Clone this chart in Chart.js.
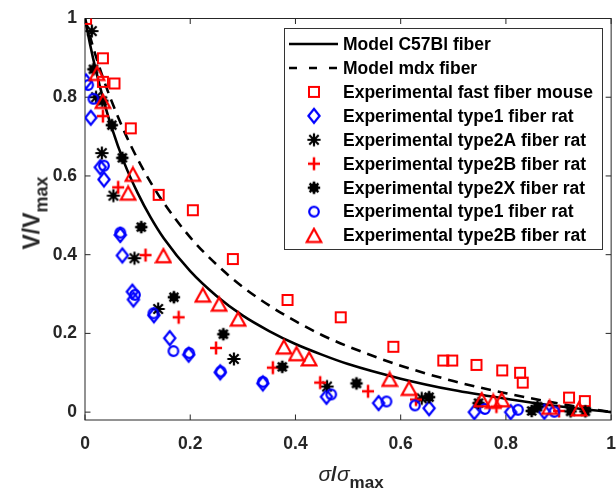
<!DOCTYPE html>
<html>
<head>
<meta charset="utf-8">
<script src="https://cdn.jsdelivr.net/npm/chart.js@4.4.0/dist/chart.umd.min.js"></script>
<style>
  html, body { margin: 0; padding: 0; background: #fff; overflow: hidden; }
  #wrap { position: relative; width: 616px; height: 492px; overflow: hidden; }
  #chart { position: absolute; left: 0; top: 0; }
  .title { position: absolute; font-family: "Liberation Sans", Arial, sans-serif; font-weight: bold;
           color: #262626; white-space: nowrap; line-height: 1; }
  .title sub { font-size: 17px; vertical-align: -7px; line-height: 0; }
  .title i { font-weight: normal; }
  #xtitle { left: 351px; top: 463px; font-size: 21px; transform: translateX(-50%); }
  #ytitle { left: 32px; top: 213px; font-size: 23px; transform: translate(-50%, -50%) rotate(-90deg); }
  #ytitle sub { font-size: 18px; vertical-align: -8px; }
</style>
</head>
<body>
<div id="wrap">
  <canvas id="chart" width="630" height="492"></canvas>
  <div class="title" id="xtitle"><i>σ</i>/<i>σ</i><sub>max</sub></div>
  <div class="title" id="ytitle">V/V<sub>max</sub></div>
</div>
<script>
// axis ticks
var xTicks = [0, 0.2, 0.4, 0.6, 0.8, 1];
var yTicks = [0, 0.2, 0.4, 0.6, 0.8, 1];

// model curves
var modelX = [0, 0.01, 0.02, 0.035, 0.05, 0.075, 0.1, 0.125, 0.15, 0.2, 0.25, 0.3, 0.35, 0.4, 0.45, 0.5, 0.6, 0.7, 0.8, 0.9, 1];
var c57Y   = [1, 0.932, 0.872, 0.794, 0.726, 0.632, 0.557, 0.494, 0.441, 0.358, 0.295, 0.245, 0.206, 0.173, 0.146, 0.122, 0.085, 0.056, 0.034, 0.015, 0];
var mdxY   = [1, 0.952, 0.907, 0.846, 0.792, 0.712, 0.643, 0.583, 0.531, 0.444, 0.375, 0.318, 0.271, 0.231, 0.196, 0.167, 0.118, 0.079, 0.048, 0.022, 0];

// experimental points [sigma/sigma_max, V/V_max]
var fastMouse = [[0.002,0.999],[0.034,0.899],[0.034,0.839],[0.056,0.835],[0.087,0.721],[0.140,0.552],[0.205,0.513],
  [0.281,0.389],[0.385,0.285],[0.486,0.241],[0.586,0.166],[0.681,0.131],[0.698,0.131],[0.744,0.120],[0.793,0.106],
  [0.827,0.100],[0.832,0.075],[0.920,0.037],[0.950,0.028]];
var type1Dia = [[0.002,0.840],[0.011,0.748],[0.029,0.622],[0.036,0.591],[0.067,0.450],[0.071,0.398],[0.090,0.306],
  [0.092,0.286],[0.131,0.246],[0.161,0.188],[0.197,0.146],[0.257,0.101],[0.338,0.073],[0.459,0.039],[0.558,0.023],
  [0.654,0.010],[0.740,0.000],[0.809,0.000],[0.873,0.001]];
var type2A = [[0.013,0.968],[0.021,0.800],[0.032,0.658],[0.054,0.550],[0.094,0.391],[0.139,0.262],[0.283,0.135],
  [0.460,0.065],[0.640,0.035]];
var type2BPlus = [[0.034,0.752],[0.063,0.571],[0.115,0.399],[0.178,0.241],[0.249,0.163],[0.357,0.113],[0.447,0.075],
  [0.538,0.053],[0.629,0.032],[0.782,0.014],[0.901,0.003]];
var type2X = [[0.016,0.871],[0.033,0.791],[0.051,0.729],[0.071,0.646],[0.107,0.470],[0.169,0.292],[0.263,0.198],
  [0.375,0.115],[0.516,0.073],[0.654,0.038],[0.748,0.023],[0.849,0.003],[0.860,0.014],[0.923,0.002],[0.951,0.002]];
var type1Circ = [[0.006,0.831],[0.016,0.796],[0.036,0.626],[0.067,0.456],[0.095,0.298],[0.130,0.251],[0.168,0.155],
  [0.198,0.150],[0.258,0.103],[0.338,0.077],[0.468,0.045],[0.573,0.027],[0.627,0.017],[0.760,0.008],[0.823,0.006],
  [0.892,0.001]];
var type2BTri = [[0.023,0.860],[0.034,0.789],[0.091,0.604],[0.082,0.556],[0.149,0.397],[0.224,0.297],[0.255,0.274],
  [0.291,0.236],[0.378,0.165],[0.402,0.148],[0.426,0.135],[0.579,0.083],[0.616,0.060],[0.754,0.031],[0.776,0.027],
  [0.792,0.031],[0.883,0.012],[0.939,0.008]];

var legendLabels = ["Model C57Bl fiber", "Model mdx fiber", "Experimental fast fiber mouse",
  "Experimental type1 fiber rat", "Experimental type2A fiber rat", "Experimental type2B fiber rat",
  "Experimental type2X fiber rat", "Experimental type1 fiber rat", "Experimental type2B fiber rat"];

var RED = "#ff0000", BLUE = "#0000ff", BLACK = "#000000";
var FONT = '"Liberation Sans", Arial, sans-serif';

// marker images
function mk(w, h, fn) {
  var c = document.createElement("canvas");
  c.width = w; c.height = h;
  var g = c.getContext("2d");
  fn(g, w / 2, h / 2);
  return c;
}
function spokes(g, cx, cy, r, rd) {
  g.beginPath();
  g.moveTo(cx, cy - r); g.lineTo(cx, cy + r);
  g.moveTo(cx - r, cy); g.lineTo(cx + r, cy);
  g.moveTo(cx - rd, cy - rd); g.lineTo(cx + rd, cy + rd);
  g.moveTo(cx - rd, cy + rd); g.lineTo(cx + rd, cy - rd);
  g.stroke();
}
var mSquare = mk(14, 14, function (g, cx, cy) {
  g.strokeStyle = RED; g.lineWidth = 2; g.strokeRect(cx - 5, cy - 5, 10, 10);
});
var mDiamond = mk(18, 20, function (g, cx, cy) {
  g.strokeStyle = BLUE; g.lineWidth = 2.2; g.lineJoin = "miter";
  g.beginPath();
  g.moveTo(cx, cy - 7); g.lineTo(cx + 5.6, cy); g.lineTo(cx, cy + 7); g.lineTo(cx - 5.6, cy);
  g.closePath(); g.stroke();
});
var mAsterisk = mk(16, 16, function (g, cx, cy) {
  g.strokeStyle = BLACK; g.lineWidth = 2.2; spokes(g, cx, cy, 6.6, 4.7);
});
var mPlus = mk(16, 16, function (g, cx, cy) {
  g.strokeStyle = RED; g.lineWidth = 2.5;
  g.beginPath();
  g.moveTo(cx, cy - 6.5); g.lineTo(cx, cy + 6.5);
  g.moveTo(cx - 6, cy); g.lineTo(cx + 6, cy);
  g.stroke();
});
var mBlob = mk(16, 16, function (g, cx, cy) {
  g.fillStyle = BLACK; g.strokeStyle = BLACK; g.lineWidth = 2.6;
  g.beginPath(); g.arc(cx, cy, 4.6, 0, Math.PI * 2); g.fill();
  spokes(g, cx, cy, 6.2, 4.4);
});
var mCircle = mk(14, 14, function (g, cx, cy) {
  g.strokeStyle = BLUE; g.lineWidth = 2.2;
  g.beginPath(); g.arc(cx, cy, 4.8, 0, Math.PI * 2); g.stroke();
});
var mTriangle = mk(18, 18, function (g, cx, cy) {
  g.strokeStyle = RED; g.lineWidth = 2.2; g.lineJoin = "miter";
  g.beginPath();
  g.moveTo(cx, cy - 6.8); g.lineTo(cx + 7.2, cy + 6.3); g.lineTo(cx - 7.2, cy + 6.3);
  g.closePath(); g.stroke();
});

function pts(a) { return a.map(function (p) { return { x: p[0], y: p[1] }; }); }
function curve(ys) { return modelX.map(function (x, i) { return { x: x, y: ys[i] }; }); }

var series = [
  { data: fastMouse, img: mSquare },
  { data: type1Dia, img: mDiamond },
  { data: type2A, img: mAsterisk },
  { data: type2BPlus, img: mPlus },
  { data: type2X, img: mBlob },
  { data: type1Circ, img: mCircle },
  { data: type2BTri, img: mTriangle }
];

var datasets = [
  { type: "line", label: legendLabels[0], data: curve(c57Y), borderColor: BLACK, borderWidth: 2.6,
    pointRadius: 0, fill: false, cubicInterpolationMode: "monotone", order: 0 },
  { type: "line", label: legendLabels[1], data: curve(mdxY), borderColor: BLACK, borderWidth: 2.6,
    borderDash: [10, 7], pointRadius: 0, fill: false, cubicInterpolationMode: "monotone", order: -1 }
];
series.forEach(function (s, i) {
  datasets.push({ type: "scatter", label: legendLabels[i + 2], data: pts(s.data), pointStyle: s.img,
    pointRadius: 6, showLine: false, order: -2 - i });
});

var tickFont = { family: FONT, size: 17.5, weight: "bold" };

// box, inward ticks
var framePlugin = {
  id: "frame",
  beforeDatasetsDraw: function (chart) {
    var ctx = chart.ctx, a = chart.chartArea, x = chart.scales.x, y = chart.scales.y;
    ctx.save();
    ctx.strokeStyle = "#262626"; ctx.lineWidth = 1;
    ctx.strokeRect(a.left, a.top, a.right - a.left, a.bottom - a.top);
    ctx.beginPath();
    xTicks.forEach(function (v) {
      var px = x.getPixelForValue(v);
      ctx.moveTo(px, a.bottom); ctx.lineTo(px, a.bottom - 5.5);
      ctx.moveTo(px, a.top); ctx.lineTo(px, a.top + 5.5);
    });
    yTicks.forEach(function (v) {
      var py = y.getPixelForValue(v);
      ctx.moveTo(a.left, py); ctx.lineTo(a.left + 5.5, py);
      ctx.moveTo(a.right, py); ctx.lineTo(a.right - 5.5, py);
    });
    ctx.stroke();
    ctx.restore();
  }
};

// MATLAB style legend box
var legendPlugin = {
  id: "boxLegend",
  afterDraw: function (chart) {
    var ctx = chart.ctx;
    var L = 284.5, T = 28.5, W = 318, H = 221;
    ctx.save();
    ctx.fillStyle = "#fff"; ctx.fillRect(L, T, W, H);
    ctx.strokeStyle = "#333"; ctx.lineWidth = 1; ctx.strokeRect(L, T, W, H);
    ctx.font = "bold 17.5px " + FONT;
    ctx.textBaseline = "middle"; ctx.fillStyle = "#000";
    legendLabels.forEach(function (lab, i) {
      var ry = 44 + i * 23.95;
      if (i < 2) {
        ctx.save();
        ctx.strokeStyle = BLACK; ctx.lineWidth = 2.6;
        if (i === 1) ctx.setLineDash([8, 12]);
        ctx.beginPath(); ctx.moveTo(289, ry); ctx.lineTo(338, ry); ctx.stroke();
        ctx.restore();
      } else {
        var img = series[i - 2].img;
        ctx.drawImage(img, 314 - img.width / 2, ry - img.height / 2);
      }
      ctx.fillText(lab, 343, ry + 1);
    });
    ctx.restore();
  }
};

new Chart(document.getElementById("chart"), {
  type: "scatter",
  data: { datasets: datasets },
  options: {
    responsive: false,
    animation: false,
    devicePixelRatio: 1,
    events: [],
    layout: { padding: { top: 12, right: 12, left: 0, bottom: 0 } },
    plugins: { legend: { display: false }, tooltip: { enabled: false } },
    scales: {
      x: {
        type: "linear", min: 0, max: 1,
        grid: { display: false, drawTicks: false }, border: { display: false },
        afterBuildTicks: function (s) { s.ticks = xTicks.map(function (v) { return { value: v }; }); },
        afterFit: function (s) { s.height = 72; },
        ticks: { padding: 14, color: "#262626", font: tickFont, autoSkip: false, maxRotation: 0,
                 callback: function (v) { return String(v); } }
      },
      y: {
        type: "linear", min: -0.02, max: 1,
        grid: { display: false, drawTicks: false }, border: { display: false },
        afterBuildTicks: function (s) { s.ticks = yTicks.map(function (v) { return { value: v }; }); },
        afterFit: function (s) { s.width = 85; },
        ticks: { padding: 8, color: "#262626", font: tickFont, autoSkip: false,
                 callback: function (v) { return String(v); } }
      }
    }
  },
  plugins: [framePlugin, legendPlugin]
});
</script>
</body>
</html>
